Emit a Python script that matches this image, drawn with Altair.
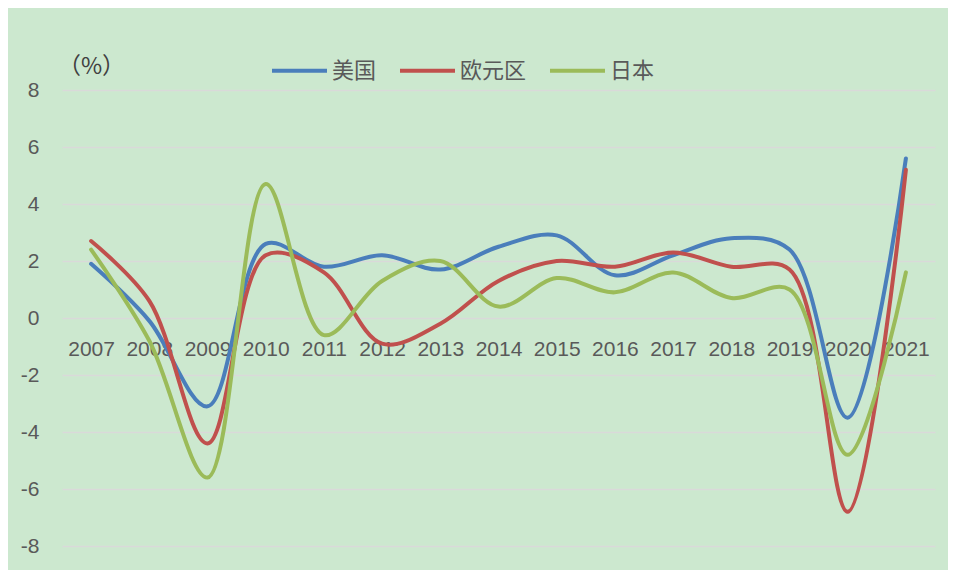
import altair as alt
import pandas as pd

years = [str(y) for y in range(2007, 2022)]
us = [1.9, -0.1, -3.1, 2.6, 1.8, 2.2, 1.7, 2.5, 2.9, 1.5, 2.2, 2.8, 2.4, -3.5, 5.6]
ez = [2.7, 0.6, -4.4, 2.2, 1.6, -0.9, -0.2, 1.3, 2.0, 1.8, 2.3, 1.8, 1.7, -6.8, 5.2]
jp = [2.4, -0.8, -5.6, 4.7, -0.6, 1.3, 2.0, 0.4, 1.4, 0.9, 1.6, 0.7, 1.0, -4.8, 1.6]
series = ["美国", "欧元区", "日本"]
colors = ["#4A7EBB", "#C0504D", "#9BBB59"]
y_ticks = [-8, -6, -4, -2, 0, 2, 4, 6, 8]

rows = []
for name, vals in zip(series, [us, ez, jp]):
    for yr, v in zip(years, vals):
        rows.append({"year": yr, "series": name, "value": v})
df = pd.DataFrame(rows)

chart = alt.Chart(df).mark_line(
    interpolate="catmull-rom", strokeWidth=4, strokeCap="round"
).encode(
    x=alt.X("year:N", sort=years,
            scale=alt.Scale(type="point", padding=0.5),
            axis=alt.Axis(title=None, orient="bottom", offset=-228, domain=False,
                          ticks=False, tickSize=0, labelPadding=31,
                          labelBaseline="middle", labelAngle=0,
                          labelFont="Liberation Sans", labelFontSize=21,
                          labelColor="#595959", grid=False)),
    y=alt.Y("value:Q",
            scale=alt.Scale(domain=[-8, 8], nice=False, zero=False),
            axis=alt.Axis(values=y_ticks, labelExpr="'' + datum.value",
                          title="（%）", titleAngle=0,
                          titleX=29, titleY=-24, titleAlign="center",
                          titleBaseline="middle", titleFont="Noto Sans CJK SC",
                          titleFontSize=23, titleFontWeight="normal",
                          titleColor="#404040",
                          domain=False, ticks=False, tickSize=0, labelPadding=23,
                          labelFont="Liberation Sans", labelFontSize=21,
                          labelColor="#595959", grid=True,
                          gridColor="#D9D9D9", gridWidth=1.5)),
    color=alt.Color("series:N", sort=series,
                    scale=alt.Scale(domain=series, range=colors),
                    legend=alt.Legend(title=None, orient="none", legendX=208,
                                      legendY=-49, direction="horizontal",
                                      symbolType="stroke", symbolSize=3025,
                                      symbolStrokeWidth=4, labelFontSize=22,
                                      labelFont="Noto Sans CJK SC",
                                      labelColor="#595959", columnPadding=15,
                                      labelOffset=3)),
).properties(
    width=873, height=456,
    padding={"left": 54, "top": 82, "right": 13, "bottom": 24},
    autosize=alt.AutoSizeParams(type="none"),
    background="#CCE8CF",
).configure_view(stroke=None)

chart.save("out.html", embed_options={"renderer": "svg", "actions": False})
